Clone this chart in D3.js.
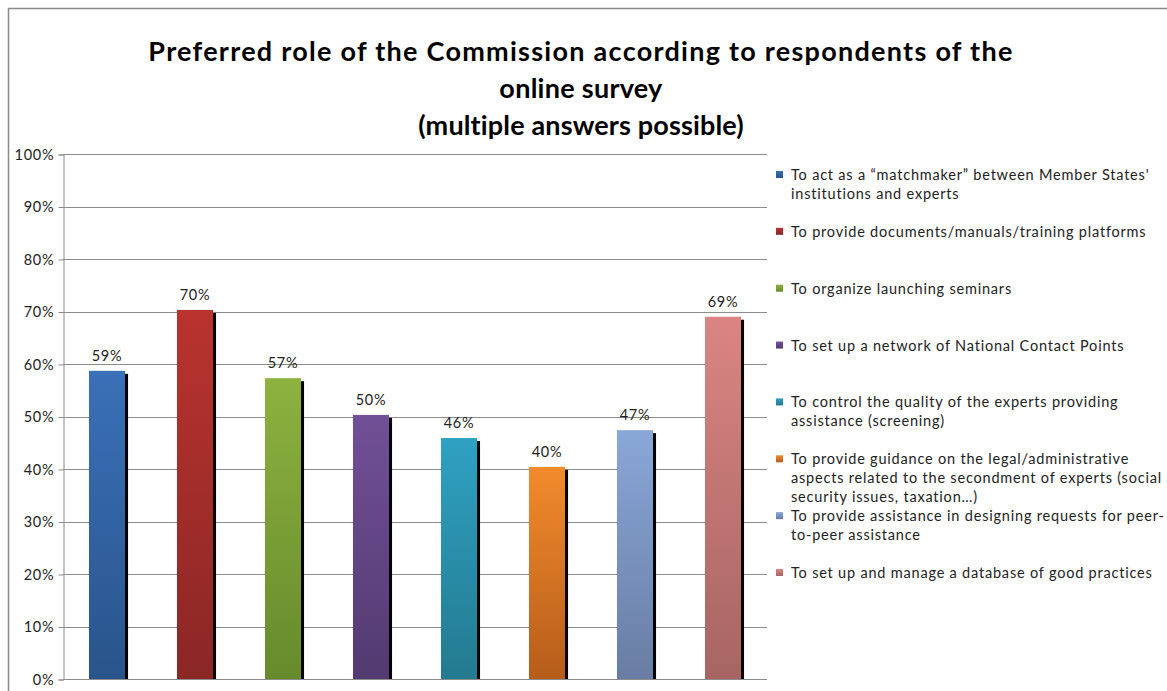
<!DOCTYPE html>
<html>
<head>
<meta charset="utf-8">
<script src="https://cdn.jsdelivr.net/npm/d3@7"></script>
<style>
  html, body { margin: 0; padding: 0; background: #fff; }
  svg { display: block; }
</style>
</head>
<body>
<svg id="chart" width="1167" height="691"></svg>
<script>
// Survey answers: share of respondents choosing each role (multiple answers possible)
const categories = [
  "To act as a \u201cmatchmaker\u201d between Member States'\ninstitutions and experts",
  "To provide documents/manuals/training platforms",
  "To organize launching seminars",
  "To set up a network of National Contact Points",
  "To control the quality of the experts providing\nassistance (screening)",
  "To provide guidance on the legal/administrative\naspects related to the secondment of experts (social\nsecurity issues, taxation\u2026)",
  "To provide assistance in designing requests for peer-\nto-peer assistance",
  "To set up and manage a database of good practices"
];
const values = [0.587, 0.703, 0.573, 0.503, 0.459, 0.404, 0.474, 0.690];
const valueLabels = ["59%", "70%", "57%", "50%", "46%", "40%", "47%", "69%"];
const tickValues = [0, 0.1, 0.2, 0.3, 0.4, 0.5, 0.6, 0.7, 0.8, 0.9, 1.0];
const titleLines = [
  "Preferred role of the Commission according to respondents of the",
  "online survey",
  "(multiple answers possible)"
];
// gradient stops per bar: [top, bottom]
const barColors = [
  ["#3a70b8", "#29548a"],
  ["#b9332f", "#8a2725"],
  ["#8db23f", "#678a2c"],
  ["#715097", "#533a70"],
  ["#2fa1c2", "#237a8f"],
  ["#f28b2c", "#b65d1b"],
  ["#89a7d8", "#697da3"],
  ["#da8583", "#a66563"]
];

const svg = d3.select("#chart");
const FONT = "Lato, 'Open Sans', sans-serif";

// spread a text's letters so that it fills the given width
function fitWidth(sel, width) {
  sel.each(function () {
    const n = this.getNumberOfChars();
    const w = this.getComputedTextLength();
    if (n > 1) d3.select(this).attr("letter-spacing", (width - w) / (n - 1));
  });
}

// outer frame (left and top edges visible)
svg.append("path")
  .attr("d", "M8.5,691 L8.5,8.5 L1167,8.5")
  .attr("fill", "none").attr("stroke", "#8a8a8a").attr("stroke-width", 1.5);

// title
const titleWidths = [864, 163, 326];
svg.append("g").selectAll("text").data(titleLines).join("text")
  .attr("x", 581)
  .attr("y", (d, i) => 61 + i * 37)
  .attr("text-anchor", "middle")
  .attr("font-family", FONT)
  .attr("font-weight", "bold")
  .attr("font-size", 27)
  .attr("fill", "#000")
  .text(d => d)
  .each(function (d, i) { fitWidth(d3.select(this), titleWidths[i]); });

const plot = { left: 63, right: 767, top: 154, bottom: 679 };

const x = d3.scaleBand()
  .domain(d3.range(categories.length))
  .range([plot.left, plot.right])
  .paddingInner(0.59).paddingOuter(0.295);

const y = d3.scaleLinear().domain([0, 1]).range([plot.bottom, plot.top]);

// gradients
const defs = svg.append("defs");
barColors.forEach((c, i) => {
  const g = defs.append("linearGradient").attr("id", "g" + i)
    .attr("x1", 0).attr("y1", 0).attr("x2", 0).attr("y2", 1);
  g.append("stop").attr("offset", "0%").attr("stop-color", c[0]);
  g.append("stop").attr("offset", "100%").attr("stop-color", c[1]);
});
defs.append("clipPath").attr("id", "plotclip")
  .append("rect").attr("x", 0).attr("y", 0).attr("width", 1167).attr("height", plot.bottom);

// gridlines
svg.append("g").selectAll("line").data(tickValues).join("line")
  .attr("x1", plot.left).attr("x2", plot.right)
  .attr("y1", d => Math.round(y(d)) + 0.5).attr("y2", d => Math.round(y(d)) + 0.5)
  .attr("stroke", "#8c8c8c").attr("stroke-width", 1);

// y axis
const yAxis = d3.axisLeft(y)
  .tickValues(tickValues)
  .tickFormat(d3.format(".0%"))
  .tickSize(5).tickPadding(4);
const ay = svg.append("g").attr("transform", `translate(${plot.left + 0.5},0.5)`).call(yAxis);
ay.select(".domain").attr("stroke", "#8c8c8c");
ay.selectAll(".tick line").attr("stroke", "#8c8c8c");
ay.selectAll(".tick text")
  .attr("font-family", FONT).attr("font-size", 14.5).attr("fill", "#222")
  .attr("letter-spacing", 0.8);

// bars with drop shadow
const bars = svg.append("g").attr("clip-path", "url(#plotclip)");
bars.selectAll("rect.shadow").data(values).join("rect")
  .attr("class", "shadow")
  .attr("x", (d, i) => x(i) + 3)
  .attr("y", d => y(d) + 3)
  .attr("width", x.bandwidth())
  .attr("height", d => plot.bottom - y(d))
  .attr("fill", "#000");
bars.selectAll("rect.bar").data(values).join("rect")
  .attr("class", "bar")
  .attr("x", (d, i) => x(i))
  .attr("y", d => y(d))
  .attr("width", x.bandwidth())
  .attr("height", d => plot.bottom - y(d))
  .attr("fill", (d, i) => `url(#g${i})`);

// value labels
svg.append("g").selectAll("text").data(values).join("text")
  .attr("x", (d, i) => x(i) + x.bandwidth() / 2)
  .attr("y", d => y(d) - 10)
  .attr("text-anchor", "middle")
  .attr("font-family", FONT).attr("font-size", 14.5).attr("fill", "#222")
  .attr("letter-spacing", 0.7)
  .text((d, i) => valueLabels[i]);

// legend
const legY = d3.scaleLinear().domain([0, 7]).range([175, 573]);
const leg = svg.append("g").selectAll("g").data(categories).join("g")
  .attr("transform", (d, i) => `translate(776,${legY(i)})`);
leg.append("rect")
  .attr("x", 0).attr("y", -4).attr("width", 7).attr("height", 7)
  .attr("fill", (d, i) => `url(#g${i})`);
leg.append("text")
  .attr("font-family", FONT).attr("font-size", 14.5).attr("fill", "#222")
  .attr("letter-spacing", 0.8)
  .selectAll("tspan").data(d => d.split("\n")).join("tspan")
  .attr("x", 15)
  .attr("y", (d, j) => j * 19 + 5)
  .text(d => d);
</script>
</body>
</html>
